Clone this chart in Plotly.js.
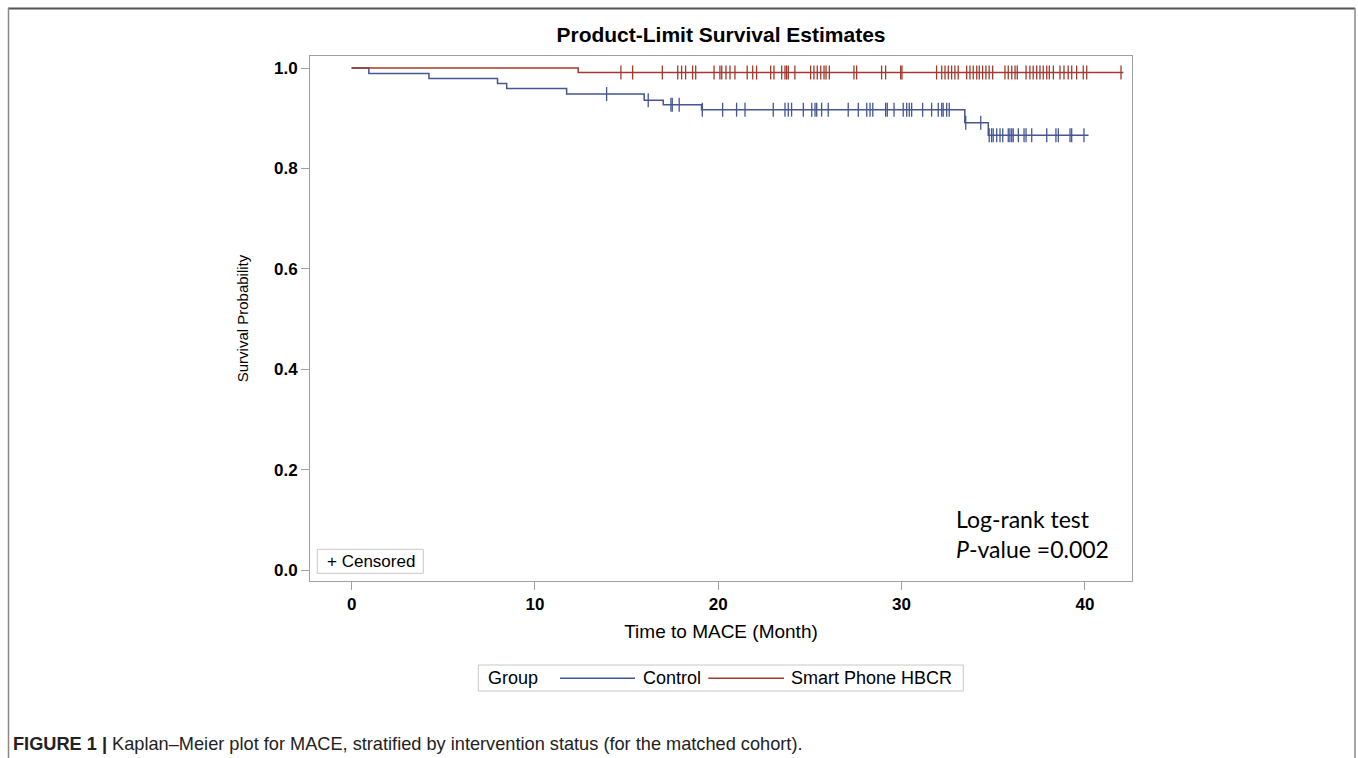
<!DOCTYPE html>
<html>
<head>
<meta charset="utf-8">
<script src="https://cdn.plot.ly/plotly-3.0.1.min.js"></script>
<style>
  html, body { margin: 0; padding: 0; background: #fff; }
  #chart { width: 1358px; height: 758px; }
</style>
</head>
<body>
<div id="chart"></div>
<script>
// ---- Data ----
const controlTimes = [0, 0.94, 4.22, 7.96, 8.46, 11.73, 15.96, 17.0, 19.09, 33.45, 34.73, 40.2];
const controlSurv  = [1.0, 0.989, 0.979, 0.969, 0.959, 0.948, 0.936, 0.927, 0.917, 0.891, 0.866, 0.866];
const controlCensored = [13.91, 16.18, 17.42, 17.49, 17.87, 19.13, 20.24, 21.00, 21.46, 23.00, 23.64, 23.82,
  24.00, 24.64, 25.10, 25.28, 25.37, 25.64, 26.00, 27.09, 27.64, 28.10, 28.28, 28.43, 29.13, 29.22, 29.59,
  30.09, 30.28, 30.42, 30.55, 31.15, 31.64, 32.00, 32.19, 32.27, 32.46, 32.60, 33.50, 34.32, 34.78, 34.91,
  35.00, 35.19, 35.37, 35.52, 35.82, 35.91, 36.01, 36.09, 36.37, 36.68, 36.79, 37.10, 37.92, 38.42, 38.55,
  39.19, 39.28, 39.95];

const hbcrTimes = [0, 12.36, 42.1];
const hbcrSurv  = [1.0, 0.991, 0.991];
const hbcrCensored = [14.69, 15.33, 16.95, 17.79, 18.00, 18.22, 18.60, 18.77, 19.77, 20.09, 20.19, 20.42,
  20.64, 20.91, 21.58, 21.88, 22.09, 22.86, 23.04, 23.46, 23.64, 23.73, 23.82, 24.18, 25.04, 25.22, 25.40,
  25.59, 25.77, 25.88, 26.06, 27.40, 27.55, 28.91, 29.13, 29.95, 30.02, 31.91, 32.19, 32.37, 32.55, 32.73,
  32.91, 33.09, 33.55, 33.73, 33.91, 34.10, 34.24, 34.42, 34.60, 34.78, 34.97, 35.64, 35.82, 36.01, 36.19,
  36.31, 36.79, 37.00, 37.18, 37.37, 37.55, 37.73, 37.92, 38.06, 38.28, 38.64, 38.86, 39.09, 39.28, 39.55,
  39.91, 40.10, 41.97];

const groupNames = ["Control", "Smart Phone HBCR"];
const xTicks = [0, 10, 20, 30, 40];
const yTicks = [0.0, 0.2, 0.4, 0.6, 0.8, 1.0];
const yTickLabels = ["0.0", "0.2", "0.4", "0.6", "0.8", "1.0"];

// survival level of a step curve at time t
function stepAt(times, surv, t) {
  let s = surv[0];
  for (let i = 0; i < times.length; i++) { if (times[i] <= t) s = surv[i]; }
  return s;
}

const BLUE = "#445694", RED = "#A23A2E";
const FONT = "Liberation Sans, Arial, sans-serif";

// pixel -> paper helpers for decorations
const PL = 310, PR = 1132, PT = 56, PB = 581;
function px(x) { return (x - PL) / (PR - PL); }
function py(y) { return (PB - y) / (PB - PT); }

const traces = [
  { x: controlTimes, y: controlSurv, mode: "lines", line: { shape: "hv", color: BLUE, width: 1.5 },
    name: groupNames[0], showlegend: false, hoverinfo: "skip" },
  { x: controlCensored, y: controlCensored.map(t => stepAt(controlTimes, controlSurv, t)), mode: "markers",
    marker: { symbol: "line-ns-open", size: 10, color: BLUE, line: { color: BLUE, width: 1.3 } },
    showlegend: false, hoverinfo: "skip" },
  { x: hbcrTimes, y: hbcrSurv, mode: "lines", line: { shape: "hv", color: RED, width: 1.5 },
    name: groupNames[1], showlegend: false, hoverinfo: "skip" },
  { x: hbcrCensored, y: hbcrCensored.map(t => stepAt(hbcrTimes, hbcrSurv, t)), mode: "markers",
    marker: { symbol: "line-ns-open", size: 10, color: RED, line: { color: RED, width: 1.3 } },
    showlegend: false, hoverinfo: "skip" }
];

const AX = "#a0a0a0";
const layout = {
  width: 1358, height: 758,
  margin: { l: PL, r: 1358 - PR, t: PT, b: 758 - PB, pad: 0 },
  paper_bgcolor: "#ffffff", plot_bgcolor: "#ffffff",
  font: { family: FONT, color: "#000" },
  showlegend: false,
  title: { text: "<b>Product-Limit Survival Estimates</b>", font: { family: FONT, size: 21, color: "#000" },
    x: 0.5, xref: "paper", y: 1 - 35 / 758, yref: "container", yanchor: "middle", xanchor: "center" },
  xaxis: {
    range: [-2.27, 42.57], tickvals: xTicks, ticktext: xTicks.map(String),
    tickfont: { family: FONT, size: 17, color: "#000", weight: "bold" },
    showline: true, mirror: true, linecolor: AX, linewidth: 1,
    ticks: "outside", ticklen: 8, tickcolor: AX, tickwidth: 1,
    showgrid: false, zeroline: false,
    title: { text: "Time to MACE (Month)", font: { family: FONT, size: 19, color: "#000" }, standoff: 11 }
  },
  yaxis: {
    range: [-0.0219, 1.0239], tickvals: yTicks, ticktext: yTickLabels,
    tickfont: { family: FONT, size: 17, color: "#000", weight: "bold" },
    showline: true, mirror: true, linecolor: AX, linewidth: 1,
    ticks: "outside", ticklen: 8, tickcolor: AX, tickwidth: 1,
    showgrid: false, zeroline: false,
    title: { text: "Survival Probability", font: { family: FONT, size: 15, color: "#000" }, standoff: 21 }
  },
  shapes: [
    // outer figure frame
    { type: "line", xref: "paper", yref: "paper", x0: px(8), x1: px(1355), y0: py(8.5), y1: py(8.5), line: { color: "#555", width: 2 } },
    { type: "line", xref: "paper", yref: "paper", x0: px(8.5), x1: px(8.5), y0: py(8), y1: py(760), line: { color: "#888", width: 1.5 } },
    { type: "line", xref: "paper", yref: "paper", x0: px(1355), x1: px(1355), y0: py(8), y1: py(760), line: { color: "#888", width: 1.5 } },
    // "+ Censored" box
    { type: "rect", xref: "paper", yref: "paper", x0: px(317.3), x1: px(423.3), y0: py(573.3), y1: py(549.3), line: { color: "#c8c8c8", width: 1 }, fillcolor: "rgba(0,0,0,0)" },
    // legend box
    { type: "rect", xref: "paper", yref: "paper", x0: px(478.3), x1: px(963.3), y0: py(691), y1: py(665), line: { color: "#c8c8c8", width: 1 }, fillcolor: "rgba(0,0,0,0)" },
    { type: "line", xref: "paper", yref: "paper", x0: px(560), x1: px(635), y0: py(678.3), y1: py(678.3), line: { color: BLUE, width: 1.5 } },
    { type: "line", xref: "paper", yref: "paper", x0: px(708.3), x1: px(784), y0: py(678.3), y1: py(678.3), line: { color: RED, width: 1.5 } }
  ],
  annotations: [
    { text: "+ Censored", xref: "paper", yref: "paper", x: px(325), y: py(561.5), xanchor: "left", yanchor: "middle",
      showarrow: false, font: { family: FONT, size: 17, color: "#000" } },
    { text: "Log-rank test", xref: "paper", yref: "paper", x: px(954), y: py(518.5), xanchor: "left", yanchor: "middle",
      showarrow: false, font: { family: "Lato, Carlito, sans-serif", size: 23, color: "#000" } },
    { text: "<i>P</i>-value =0.002", xref: "paper", yref: "paper", x: px(954), y: py(548.5), xanchor: "left", yanchor: "middle",
      showarrow: false, font: { family: "Lato, Carlito, sans-serif", size: 23, color: "#000" } },
    { text: "Group", xref: "paper", yref: "paper", x: px(485.5), y: py(678.3), xanchor: "left", yanchor: "middle",
      showarrow: false, font: { family: FONT, size: 18, color: "#000" } },
    { text: groupNames[0], xref: "paper", yref: "paper", x: px(641), y: py(678.3), xanchor: "left", yanchor: "middle",
      showarrow: false, font: { family: FONT, size: 18, color: "#000" } },
    { text: groupNames[1], xref: "paper", yref: "paper", x: px(789), y: py(678.3), xanchor: "left", yanchor: "middle",
      showarrow: false, font: { family: FONT, size: 18, color: "#000" } },
    { text: "<b>FIGURE 1 |</b> Kaplan–Meier plot for MACE, stratified by intervention status (for the matched cohort).",
      xref: "paper", yref: "paper", x: px(10.7), y: py(743.5), xanchor: "left", yanchor: "middle",
      showarrow: false, font: { family: FONT, size: 18.2, color: "#222" } }
  ]
};

Plotly.newPlot("chart", traces, layout, { displayModeBar: false, staticPlot: true });
</script>
</body>
</html>
